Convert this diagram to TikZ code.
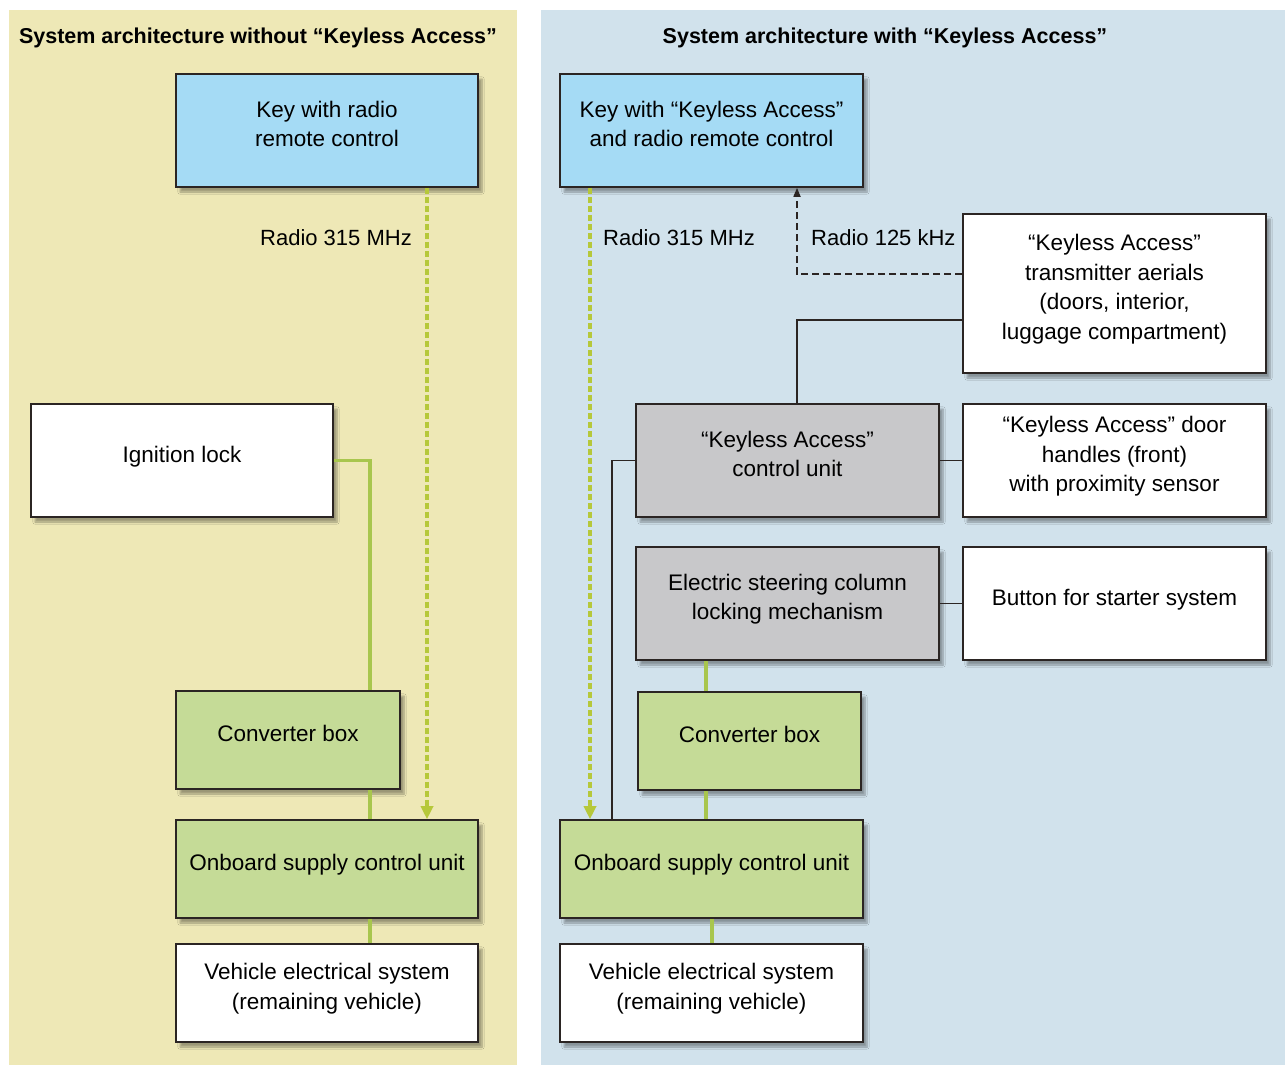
\documentclass[tikz,border=0pt]{standalone}
\usepackage{fontspec}
\setmainfont{Liberation Sans}
\usetikzlibrary{arrows.meta,shadows,shadows.blur}
\definecolor{panelY}{RGB}{238,232,182}
\definecolor{panelB}{RGB}{209,226,236}
\definecolor{keyblue}{RGB}{165,219,245}
\definecolor{boxgreen}{RGB}{197,219,151}
\definecolor{boxgray}{RGB}{200,200,202}
\definecolor{edge}{RGB}{43,37,35}
\definecolor{wiregreen}{RGB}{168,198,78}
\definecolor{radiogreen}{RGB}{182,200,58}
\tikzset{
  x=1pt, y=-1pt,
  box/.style={draw=edge, line width=1.6pt, inner sep=0pt, align=center,
    font=\fontsize{22.5}{29.5}\selectfont, text depth=13pt,
    blur shadow={shadow xshift=4pt, shadow yshift=-5pt, shadow opacity=35, shadow blur steps=6}},
  wide/.style={minimum width=302, minimum height=113},
  low/.style={minimum width=302, minimum height=98},
  whitebox/.style={box, fill=white},
  keybox/.style={box, fill=keyblue},
  greenbox/.style={box, fill=boxgreen},
  graybox/.style={box, fill=boxgray},
  lbl/.style={font=\fontsize{22}{28}\selectfont, inner sep=0pt},
  ttl/.style={font=\fontsize{21.5}{26}\selectfont\bfseries, inner sep=0pt},
  wire/.style={draw=edge, line width=1.6pt},
  gwire/.style={draw=wiregreen, line width=3.5pt},
  radio/.style={draw=radiogreen, line width=4pt, dash pattern=on 6pt off 3pt,
    -{Triangle[width=12pt,length=13pt,fill=radiogreen]}},
}
\begin{document}
\begin{tikzpicture}
\useasboundingbox (0,0) rectangle (1285,1065);
\fill[white] (0,0) rectangle (1285,1065);
% panels
\fill[panelY] (9,10) rectangle (517,1065);
\fill[panelB] (541,10) rectangle (1285,1065);

% titles
\node[ttl] (tL) at (258,38) {System architecture without “Keyless Access”};
\node[ttl] (tR) at (885,38) {System architecture with “Keyless Access”};

% left boxes
\node[keybox, wide] (keyL) at (327,130.5) {Key with radio\\remote control};
\node[whitebox, wide] (ign) at (182,460.5) {Ignition lock};
\node[greenbox, minimum width=224, minimum height=98] (convL) at (288,740) {Converter box};
\node[greenbox, low] (onbL) at (327,869) {Onboard supply control unit};
\node[whitebox, low] (vehL) at (327,993) {Vehicle electrical system\\(remaining vehicle)};

% right boxes
\node[keybox, wide, minimum width=303] (keyR) at (711.5,130.5) {Key with “Keyless Access”\\and radio remote control};
\node[whitebox, minimum width=303, minimum height=159] (aer) at (1114.5,293.5) {“Keyless Access”\\transmitter aerials\\(doors, interior,\\luggage compartment)};
\node[graybox, wide, minimum width=303] (kcu) at (787.5,460.5) {“Keyless Access”\\control unit};
\node[whitebox, wide, minimum width=303] (door) at (1114.5,460.5) {“Keyless Access” door\\handles (front)\\with proximity sensor};
\node[graybox, wide, minimum width=303] (steer) at (787.5,603.5) {Electric steering column\\locking mechanism};
\node[whitebox, wide, minimum width=303] (btn) at (1114.5,603.5) {Button for starter system};
\node[greenbox, minimum width=223, minimum height=98] (convR) at (749.5,741) {Converter box};
\node[greenbox, low, minimum width=303] (onbR) at (711.5,869) {Onboard supply control unit};
\node[whitebox, low, minimum width=303] (vehR) at (711.5,993) {Vehicle electrical system\\(remaining vehicle)};

% helper columns
\coordinate (gL) at (370,0);
\coordinate (rL) at (427,0);
\coordinate (rR) at (590,0);
\coordinate (bR) at (612,0);
\coordinate (cR) at (797,0);
\coordinate (gR) at (706,0);
\coordinate (gR2) at (712,0);

% left connectors
\draw[gwire] (ign.east) -| (gL |- convL.north);
\draw[gwire] (gL |- convL.south) -- (gL |- onbL.north);
\draw[gwire] (gL |- onbL.south) -- (gL |- vehL.north);
\draw[radio] (rL |- keyL.south) -- (rL |- onbL.north);
\node[lbl, anchor=east] (l315L) at (412,238) {Radio 315 MHz};

% right connectors
\draw[radio] (rR |- keyR.south) -- (rR |- onbR.north);
\draw[wire] (kcu.west) -| (bR |- onbR.north);
\draw[wire, dash pattern=on 7pt off 4pt, -{Triangle[width=7pt,length=9pt]}] ([yshift=19.5pt]aer.west) -| (cR |- keyR.south);
\draw[wire] ([yshift=-26.5pt]aer.west) -| (cR |- kcu.north);
\draw[wire] (kcu.east) -- (door.west);
\draw[wire] (steer.east) -- (btn.west);
\draw[gwire] (gR |- steer.south) -- (gR |- convR.north);
\draw[gwire] (gR |- convR.south) -- (gR |- onbR.north);
\draw[gwire] (gR2 |- onbR.south) -- (gR2 |- vehR.north);
\node[lbl, anchor=west] (l315R) at (603,238) {Radio 315 MHz};
\node[lbl, anchor=west] (l125R) at (811,238) {Radio 125 kHz};
\end{tikzpicture}
\end{document}
